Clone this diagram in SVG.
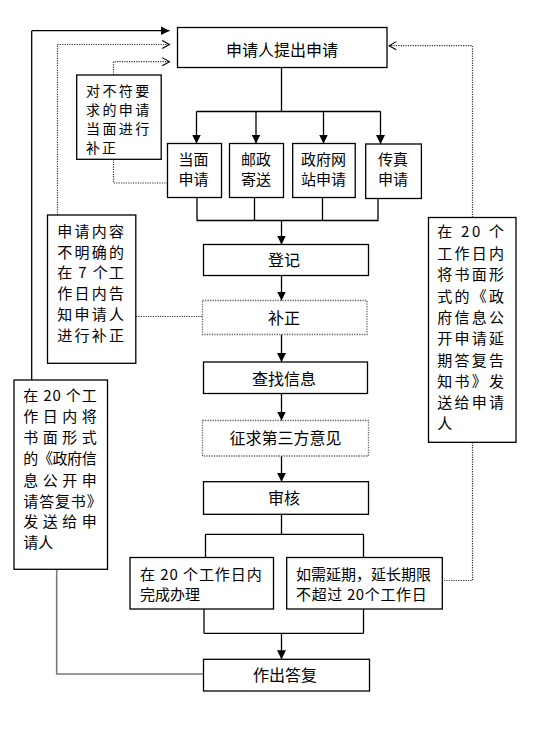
<svg xmlns="http://www.w3.org/2000/svg" width="547" height="747" viewBox="0 0 547 747">
<style>
.box{fill:#fff;stroke:#000;stroke-width:1.3}
.dbox{fill:#fff;stroke:#666;stroke-width:1.3;stroke-dasharray:1.3 1.2}
.ln{fill:none;stroke:#000;stroke-width:1.3}
.gl{fill:none;stroke:#7a7a7a;stroke-width:1.6}
.dl{fill:none;stroke:#333;stroke-width:1.2;stroke-dasharray:1.2 1.2}
text{font-family:"Noto Sans CJK SC","Noto Sans",sans-serif;fill:#000}
.c16{font-size:16px;text-anchor:middle}
.c15{font-size:15px;text-anchor:middle}
.s15{font-size:15px}
.s14{font-size:14px}
</style>
<defs>
<marker id="arr" markerUnits="userSpaceOnUse" markerWidth="9" markerHeight="9" refX="8" refY="4" orient="auto" viewBox="0 0 8 8">
<path d="M0,0 L8,4 L0,8 z" fill="#000"/>
</marker>
<marker id="open" markerUnits="userSpaceOnUse" markerWidth="10" markerHeight="10" refX="8" refY="4.5" orient="auto" viewBox="-1 -1 10 11">
<path d="M0,0 L8,4.5 L0,9" fill="none" stroke="#000" stroke-width="1.2"/>
</marker>
</defs>
<rect width="547" height="747" fill="#fff"/>

<g id="connectors">
<path class="ln" d="M31.7,30.7 H169.5" marker-end="url(#arr)"/>
<path class="ln" d="M31.7,30.7 V380"/>
<path class="gl" d="M56.7,569.3 V674 H203.5"/>
<path class="dl" d="M57.5,215 V44.5 H169.5" marker-end="url(#open)"/>
<path class="dl" d="M113.5,75 V61.7 H169.5" marker-end="url(#open)"/>
<path class="dl" d="M113.5,159.3 V183 H167.5"/>
<path class="dl" d="M136,316.5 H202.5"/>
<path class="dl" d="M472.5,217.5 V45.7 H389" marker-end="url(#open)"/>
<path class="dl" d="M472.5,442.3 V580.5 H442.3"/>
<path class="ln" d="M281.5,67.5 V111.5 M196.5,111.5 H380.5"/>
<path class="ln" d="M196.5,111.5 V143.5" marker-end="url(#arr)"/>
<path class="ln" d="M256,111.5 V143.5" marker-end="url(#arr)"/>
<path class="ln" d="M323.5,111.5 V143.5" marker-end="url(#arr)"/>
<path class="ln" d="M380.5,111.5 V144" marker-end="url(#arr)"/>
<path class="ln" d="M197,197.3 V220.5 M254.5,197.3 V220.5 M322.5,197.3 V220.5 M378,198.5 V220.5 M196.5,220.5 H378.6"/>
<path class="ln" d="M281.5,220.5 V244.5" marker-end="url(#arr)"/>
<path class="ln" d="M281.5,275.5 V300.5" marker-end="url(#arr)"/>
<path class="ln" d="M281.5,334.5 V362" marker-end="url(#arr)"/>
<path class="ln" d="M281.5,393.5 V420.5" marker-end="url(#arr)"/>
<path class="ln" d="M281.5,456 V481.7" marker-end="url(#arr)"/>
<path class="ln" d="M281.5,514.3 V534.3 M205.5,534.3 H363.5 M205.5,534.3 V557.5 M363.5,534.3 V557.5"/>
<path class="ln" d="M204,609 V633.3 M363.5,609 V633.3 M204,633.3 H363.5"/>
<path class="ln" d="M281.5,633.3 V659.3" marker-end="url(#arr)"/>
</g>

<g id="n-apply">
<rect class="box" x="177.5" y="27.5" width="209.5" height="40"/>
<text class="c16" x="282" y="55.5">申请人提出申请</text>
</g>
<g id="n-fix-face">
<rect class="box" x="76.7" y="75" width="84.5" height="84.3"/>
<text class="s14" x="86" y="96" textLength="63.3" lengthAdjust="spacing">对不符要</text>
<text class="s14" x="86" y="115" textLength="63.3" lengthAdjust="spacing">求的申请</text>
<text class="s14" x="86" y="134" textLength="63.3" lengthAdjust="spacing">当面进行</text>
<text class="s14" x="86" y="153" textLength="30" lengthAdjust="spacing">补正</text>
</g>
<g id="n-face">
<rect class="box" x="167.5" y="143.5" width="54" height="54"/>
<text class="c15" x="193.5" y="165">当面</text>
<text class="c15" x="193.5" y="184.6">申请</text>
</g>
<g id="n-post">
<rect class="box" x="229.5" y="143.5" width="54" height="54"/>
<text class="c15" x="256" y="165">邮政</text>
<text class="c15" x="256" y="184.6">寄送</text>
</g>
<g id="n-web">
<rect class="box" x="292.7" y="143.5" width="62.5" height="54"/>
<text class="c15" x="323.5" y="165">政府网</text>
<text class="c15" x="323.5" y="184.6">站申请</text>
</g>
<g id="n-fax">
<rect class="box" x="365.7" y="144" width="55.7" height="54.5"/>
<text class="c15" x="393" y="165">传真</text>
<text class="c15" x="393" y="184.6">申请</text>
</g>
<g id="n-unclear">
<rect class="box" x="47.5" y="215" width="88.3" height="148.3"/>
<text class="s15" x="57.3" y="236.6" textLength="66.7" lengthAdjust="spacing">申请内容</text>
<text class="s15" x="57.3" y="257.6" textLength="66.7" lengthAdjust="spacing">不明确的</text>
<text class="s15" x="57.3" y="278.3" textLength="66.7" lengthAdjust="spacing">在 7 个工</text>
<text class="s15" x="57.3" y="299" textLength="66.7" lengthAdjust="spacing">作日内告</text>
<text class="s15" x="57.3" y="320" textLength="66.7" lengthAdjust="spacing">知申请人</text>
<text class="s15" x="57.3" y="340.6" textLength="66.7" lengthAdjust="spacing">进行补正</text>
</g>
<g id="n-extend-notice">
<rect class="box" x="428.5" y="217.5" width="87.5" height="224.8"/>
<text class="s15" x="437.3" y="237.3" textLength="66.7" lengthAdjust="spacing">在 20 个</text>
<text class="s15" x="437.3" y="259" textLength="66.7" lengthAdjust="spacing">工作日内</text>
<text class="s15" x="437.3" y="280" textLength="66.7" lengthAdjust="spacing">将书面形</text>
<text class="s15" x="437.3" y="301.6" textLength="66.7" lengthAdjust="spacing">式的《政</text>
<text class="s15" x="437.3" y="323" textLength="66.7" lengthAdjust="spacing">府信息公</text>
<text class="s15" x="437.3" y="344" textLength="66.7" lengthAdjust="spacing">开申请延</text>
<text class="s15" x="437.3" y="365.6" textLength="66.7" lengthAdjust="spacing">期答复告</text>
<text class="s15" x="437.3" y="387.3" textLength="66.7" lengthAdjust="spacing">知书》发</text>
<text class="s15" x="437.3" y="408.3" textLength="66.7" lengthAdjust="spacing">送给申请</text>
<text class="s15" x="437.3" y="429">人</text>
</g>
<g id="n-reply-notice">
<rect class="box" x="14" y="380" width="93.5" height="189.3"/>
<text class="s15" x="23.3" y="400.6" textLength="73.4" lengthAdjust="spacing">在 20 个工</text>
<text class="s15" x="23.3" y="422.3" textLength="73.4" lengthAdjust="spacing">作日内将</text>
<text class="s15" x="23.3" y="443.3" textLength="73.4" lengthAdjust="spacing">书面形式</text>
<text class="s15" x="23.3" y="464" textLength="73.4" lengthAdjust="spacing">的《政府信</text>
<text class="s15" x="23.3" y="485.6" textLength="73.4" lengthAdjust="spacing">息公开申</text>
<text class="s15" x="23.3" y="506.6" textLength="78.4" lengthAdjust="spacing">请答复书》</text>
<text class="s15" x="23.3" y="527.3" textLength="73.4" lengthAdjust="spacing">发送给申</text>
<text class="s15" x="23.3" y="548">请人</text>
</g>
<g id="n-register">
<rect class="box" x="203.5" y="244.5" width="165" height="31"/>
<text class="c16" x="284" y="266">登记</text>
</g>
<g id="n-fix">
<rect class="dbox" x="202.5" y="300.5" width="164.5" height="34"/>
<text class="c16" x="284" y="324">补正</text>
</g>
<g id="n-search">
<rect class="box" x="203.5" y="362" width="164" height="31.5"/>
<text class="c16" x="284" y="385.3">查找信息</text>
</g>
<g id="n-third">
<rect class="dbox" x="202.5" y="420.5" width="166" height="35.5"/>
<text class="c16" x="285.5" y="444.3">征求第三方意见</text>
</g>
<g id="n-review">
<rect class="box" x="203.5" y="481.7" width="165" height="32.6"/>
<text class="c16" x="284" y="504.3">审核</text>
</g>
<g id="n-in20">
<rect class="box" x="130" y="557.5" width="143.5" height="51.5"/>
<text class="s15" x="140" y="580" textLength="121.7" lengthAdjust="spacing">在 20 个工作日内</text>
<text class="s15" x="140" y="600">完成办理</text>
</g>
<g id="n-extend">
<rect class="box" x="286.7" y="557.5" width="155.6" height="51.5"/>
<text class="s15" x="296" y="580" textLength="135" lengthAdjust="spacing">如需延期，延长期限</text>
<text class="s15" x="296" y="600" textLength="130.7" lengthAdjust="spacing">不超过 20个工作日</text>
</g>
<g id="n-reply">
<rect class="box" x="203.5" y="659.3" width="166" height="31.7"/>
<text class="c16" x="285" y="681.3">作出答复</text>
</g>
</svg>
